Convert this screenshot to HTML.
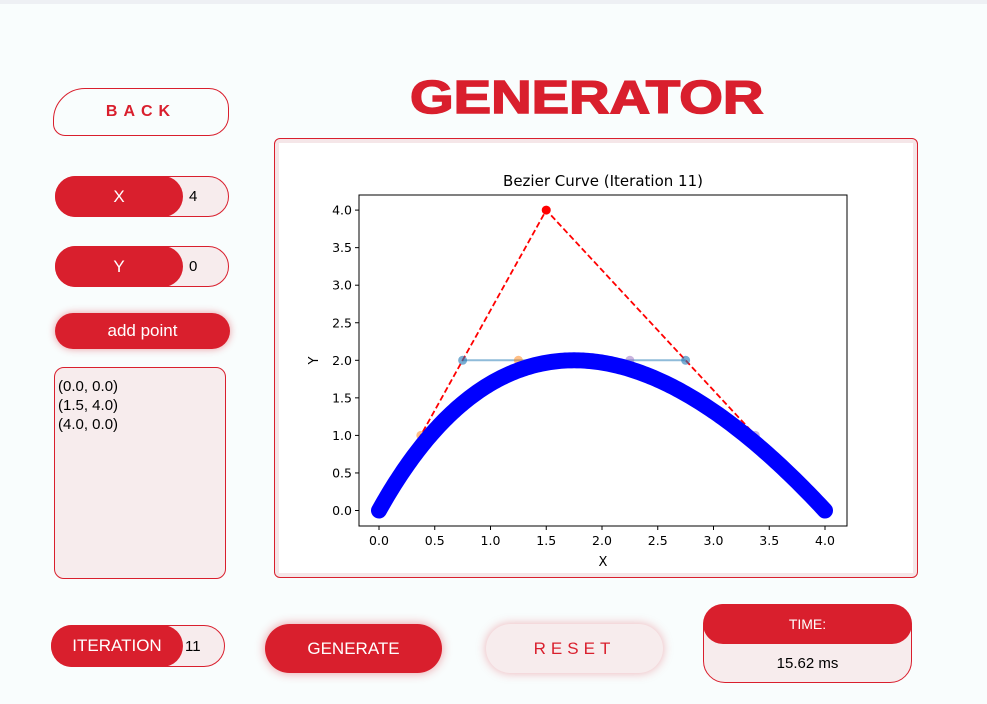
<!DOCTYPE html>
<html><head><meta charset="utf-8"><style>
body{margin:0;width:987px;height:704px;background:#f9fdfd;position:relative;overflow:hidden;font-family:"Liberation Sans",sans-serif}
.a{position:absolute;box-sizing:border-box}
.red{background:#d91f2d;color:#fff}
.pink{background:#f7eced}
.c{display:flex;align-items:center;justify-content:center}
</style></head><body>
<div class="a" style="left:0;top:0;width:987px;height:4px;background:#eef0f4"></div>
<div class="a" style="left:410px;top:72px;width:364px;height:50px;color:#d91f2d;font-weight:900;font-size:46px;line-height:50px;letter-spacing:0px;white-space:nowrap;transform:scaleX(1.22);transform-origin:left center;-webkit-text-stroke:1.5px #d91f2d">GENERATOR</div>
<div class="a c" style="left:53px;top:88px;width:176px;height:48px;border:1px solid #d91f2d;border-radius:32px 20px 20px 12px;color:#d91f2d;font-weight:bold;font-size:16px;letter-spacing:6px">BACK</div>

<div class="a pink" style="left:55px;top:176px;width:174px;height:41px;border:1px solid #d91f2d;border-radius:21px">
<div class="a red c" style="left:-1px;top:-1px;width:128px;height:41px;border-radius:21px;font-size:17px">X</div>
<div class="a" style="left:133px;top:11px;font-size:15px">4</div></div>
<div class="a pink" style="left:55px;top:246px;width:174px;height:41px;border:1px solid #d91f2d;border-radius:21px">
<div class="a red c" style="left:-1px;top:-1px;width:128px;height:41px;border-radius:21px;font-size:17px">Y</div>
<div class="a" style="left:133px;top:11px;font-size:15px">0</div></div>
<div class="a red c" style="left:55px;top:313px;width:175px;height:36px;border-radius:18px;font-size:17px;box-shadow:0 0 8px rgba(217,31,45,.45)">add point</div>
<div class="a pink" style="left:54px;top:367px;width:172px;height:212px;border:1px solid #d91f2d;border-radius:10px;padding:9px 0 0 3px;font-size:15px;line-height:19px;color:#000">(0.0, 0.0)<br>(1.5, 4.0)<br>(4.0, 0.0)</div>

<div class="a" style="left:274px;top:138px;width:644px;height:440px;border:1px solid #d91f2d;border-radius:6px;background:#f5e6e8;padding:4px">
<svg width="634" height="430" style="background:#fff;display:block" id="svg"></svg></div>

<div class="a pink" style="left:51px;top:625px;width:174px;height:42px;border:1px solid #d91f2d;border-radius:21px">
<div class="a red c" style="left:-1px;top:-1px;width:132px;height:42px;border-radius:21px;font-size:17px">ITERATION</div>
<div class="a" style="left:133px;top:12px;font-size:15px">11</div></div>
<div class="a red c" style="left:265px;top:624px;width:177px;height:49px;border-radius:25px;font-size:17px;box-shadow:0 0 10px rgba(217,31,45,.45)">GENERATE</div>
<div class="a pink c" style="left:486px;top:624px;width:177px;height:49px;border-radius:25px;font-size:17px;color:#d91f2d;letter-spacing:5px;box-shadow:0 0 10px rgba(217,31,45,.35)">RESET</div>
<div class="a pink" style="left:703px;top:604px;width:209px;height:79px;border:1px solid #d91f2d;border-radius:22px">
<div class="a red c" style="left:-1px;top:-1px;width:209px;height:40px;border-radius:20px;font-size:14px">TIME:</div>
<div class="a" style="left:0;top:50px;width:207px;text-align:center;font-size:15px;color:#000">15.62 ms</div></div>

<script>
const ctrlX=[0,1.5,4];
const ctrlY=[0,4,0];
const xTicks=[0,0.5,1,1.5,2,2.5,3,3.5,4];
const yTicks=[0,0.5,1,1.5,2,2.5,3,3.5,4];
const iteration=11;
const NS="http://www.w3.org/2000/svg",svg=document.getElementById('svg');
const ox=279,oy=143;
const L=359-ox,T=195-oy,R=847-ox,B=526-oy;
const sx=v=>379-ox+v*111.5, sy=v=>510.5-oy-v*75.1;
function mk(t,a,p){const e=document.createElementNS(NS,t);for(const k in a)e.setAttribute(k,a[k]);(p||svg).appendChild(e);return e;}
let e;
e=mk('rect',{x:L,y:T,width:R-L,height:B-T,fill:'none',stroke:'#000','stroke-width':1});

xTicks.forEach(v=>{mk('line',{x1:sx(v),x2:sx(v),y1:B,y2:B+4,stroke:'#000'});
e=mk('text',{x:sx(v),y:B+19,'font-size':12.5,'text-anchor':'middle','font-family':'DejaVu Sans'});e.textContent=v.toFixed(1);
});
yTicks.forEach(v=>{mk('line',{x1:L-4,x2:L,y1:sy(v),y2:sy(v),stroke:'#000'});
e=mk('text',{x:L-7,y:sy(v)+4.5,'font-size':12.5,'text-anchor':'end','font-family':'DejaVu Sans'});e.textContent=v.toFixed(1);
});
e=mk('text',{x:(L+R)/2,y:T-9,'font-size':15,'text-anchor':'middle','font-family':'DejaVu Sans'});e.textContent='Bezier Curve (Iteration '+iteration+')';

e=mk('text',{x:(L+R)/2,y:B+40,'font-size':13,'text-anchor':'middle','font-family':'DejaVu Sans'});e.textContent='X';

e=mk('text',{x:0,y:0,'font-size':13,'text-anchor':'middle','font-family':'DejaVu Sans',transform:`translate(${318-ox},${(T+B)/2}) rotate(-90)`});e.textContent='Y';

e=mk('polyline',{points:ctrlX.map((x,i)=>sx(x)+','+sy(ctrlY[i])).join(' '),fill:'none',stroke:'red','stroke-width':1.8,'stroke-dasharray':'6,3'});

ctrlX.forEach((x,i)=>{e=mk('circle',{cx:sx(x),cy:sy(ctrlY[i]),r:4.5,fill:'red'});
});
const m=[[ (ctrlX[0]+ctrlX[1])/2,(ctrlY[0]+ctrlY[1])/2 ],[ (ctrlX[1]+ctrlX[2])/2,(ctrlY[1]+ctrlY[2])/2 ]];
e=mk('line',{x1:sx(m[0][0]),y1:sy(m[0][1]),x2:sx(m[1][0]),y2:sy(m[1][1]),stroke:'#1f77b4','stroke-opacity':.5,'stroke-width':2});

const sub=[[ (ctrlX[0]+m[0][0])/2,(ctrlY[0]+m[0][1])/2,'#ff7f0e'],[ (m[0][0]+(m[0][0]+m[1][0])/2)/2,2,'#ff7f0e'],[((m[0][0]+m[1][0])/2+m[1][0])/2,2,'#9467bd'],[(m[1][0]+ctrlX[2])/2,(m[1][1]+ctrlY[2])/2,'#9467bd']];
sub.forEach(p=>{e=mk('circle',{cx:sx(p[0]),cy:sy(p[1]),r:4.5,fill:p[2],'fill-opacity':.5});
});
m.forEach(p=>{e=mk('circle',{cx:sx(p[0]),cy:sy(p[1]),r:4.5,fill:'#1f77b4','fill-opacity':.6});
});
let pts=[];for(let i=0;i<=200;i++){const t=i/200,u=1-t;
const x=u*u*ctrlX[0]+2*u*t*ctrlX[1]+t*t*ctrlX[2],y=u*u*ctrlY[0]+2*u*t*ctrlY[1]+t*t*ctrlY[2];pts.push(sx(x)+','+sy(y));}
e=mk('polyline',{points:pts.join(' '),fill:'none',stroke:'#0000ff','stroke-width':16,'stroke-linecap':'round','stroke-linejoin':'round'});

</script>
</body></html>
